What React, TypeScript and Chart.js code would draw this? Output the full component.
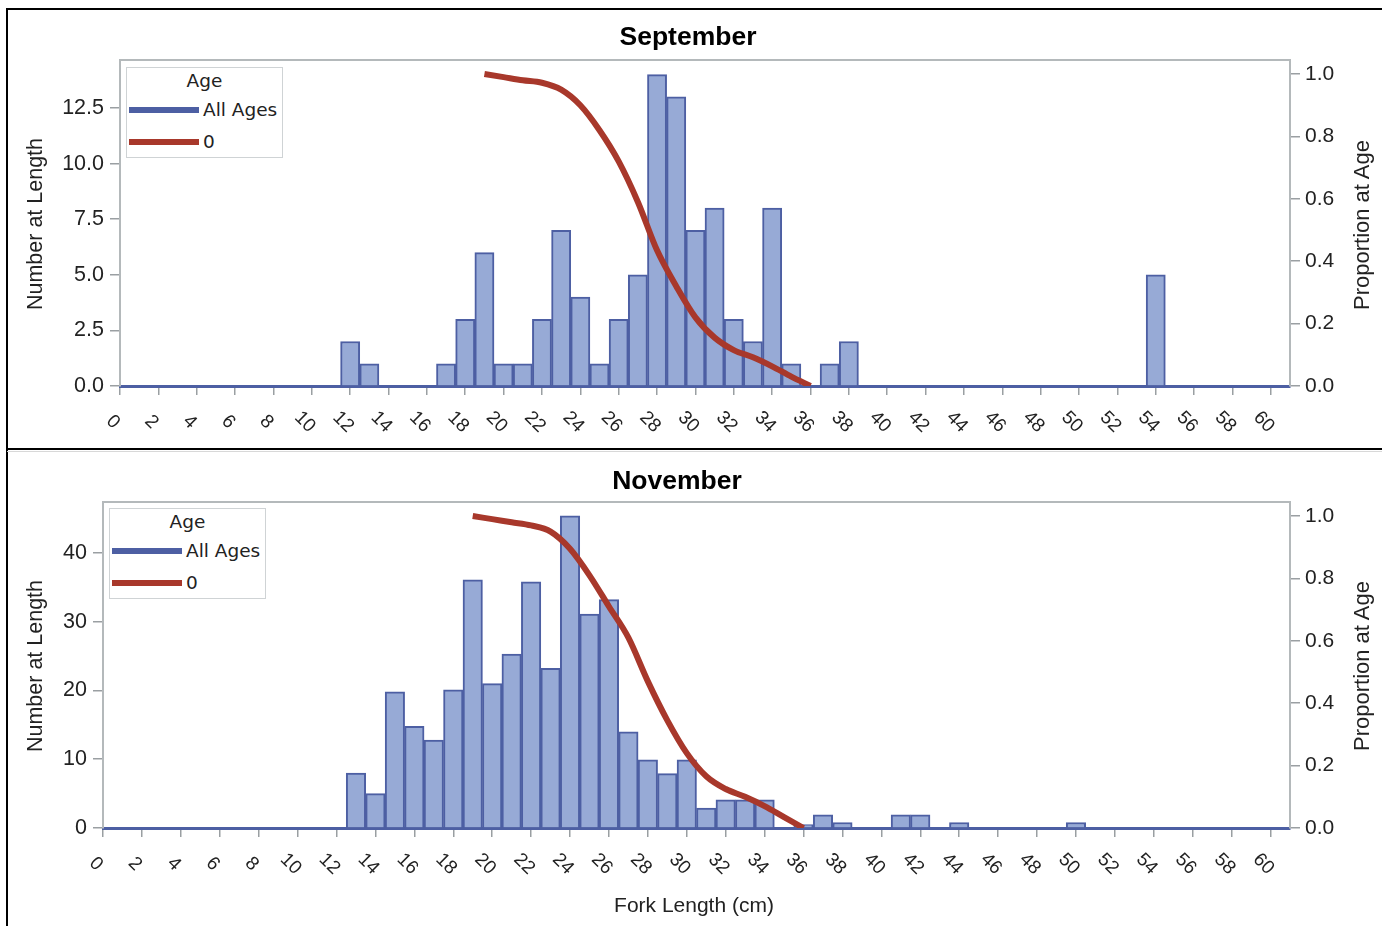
import React, { useEffect, useRef } from "react";
import { Chart, registerables } from "chart.js";

Chart.register(...registerables);

// ---------- data ----------
const X_TICKS = [0, 2, 4, 6, 8, 10, 12, 14, 16, 18, 20, 22, 24, 26, 28, 30, 32, 34, 36, 38, 40, 42, 44, 46, 48, 50, 52, 54, 56, 58, 60];

const SEP_LENGTHS = [12, 13, 17, 18, 19, 20, 21, 22, 23, 24, 25, 26, 27, 28, 29, 30, 31, 32, 33, 34, 35, 37, 38, 54];
const SEP_COUNTS = [2, 1, 1, 3, 6, 1, 1, 3, 7, 4, 1, 3, 5, 14, 13, 7, 8, 3, 2, 8, 1, 1, 2, 5];
const SEP_Y_TICKS = [0, 2.5, 5, 7.5, 10, 12.5];

const NOV_LENGTHS = [13, 14, 15, 16, 17, 18, 19, 20, 21, 22, 23, 24, 25, 26, 27, 28, 29, 30, 31, 32, 33, 34, 36, 37, 38, 41, 42, 44, 50];
const NOV_COUNTS = [8.0, 5.0, 19.8, 14.8, 12.8, 20.1, 36.1, 21.0, 25.3, 35.8, 23.2, 45.4, 31.1, 33.2, 14.0, 9.9, 7.9, 9.9, 2.9, 4.1, 4.1, 4.1, 0.5, 1.9, 0.8, 1.9, 1.9, 0.8, 0.8];
const NOV_Y_TICKS = [0, 10, 20, 30, 40];

const PROP_LENGTHS = [19, 20, 21, 22, 23, 24, 25, 26, 27, 28, 29, 30, 31, 32, 33, 34, 35, 36];
const SEP_PROP = [1.0, 0.99, 0.98, 0.972, 0.95, 0.9, 0.82, 0.72, 0.59, 0.435, 0.32, 0.22, 0.155, 0.115, 0.092, 0.063, 0.03, 0.0];
const NOV_PROP = [1.0, 0.99, 0.98, 0.97, 0.95, 0.895, 0.81, 0.71, 0.61, 0.47, 0.345, 0.24, 0.166, 0.125, 0.1, 0.07, 0.035, 0.0];
const PROP_TICKS = [0, 0.2, 0.4, 0.6, 0.8, 1.0];

// ---------- styles ----------
const FONT = "'Liberation Sans', Arial, sans-serif";
const LEGEND_FONT = "'DejaVu Sans', Verdana, sans-serif";
const BAR_FILL = "#97aad6";
const BAR_BORDER = "#4d5fa3";
const RED = "#a8382b";
const FRAME = "#b4b9bb";
const TICK = "#9a9fa2";
const TEXT = "#222";
const PAGE_W = 1382;

type PanelProps = {
  top: number;
  height: number;
  plotLeft: number;
  plotRight: number;
  plotTop: number;
  plotBottom: number;
  lengths: number[];
  counts: number[];
  yMax: number;
  yTicks: number[];
  yDecimals: number;
  prop: number[];
  propMax: number;
};

const xLabelPlugin = {
  id: "xLabels",
  beforeDatasetsDraw(chart: any) {
    const { ctx, chartArea: a } = chart;
    ctx.save();
    ctx.strokeStyle = FRAME;
    ctx.lineWidth = 2;
    ctx.beginPath();
    ctx.moveTo(a.left, a.top);
    ctx.lineTo(a.right, a.top);
    ctx.stroke();
    ctx.restore();
  },
  afterDraw(chart: any) {
    const { ctx, chartArea: a } = chart;
    const xs = chart.scales.x;
    ctx.save();
    ctx.fillStyle = TEXT;
    ctx.font = `19px ${FONT}`;
    ctx.textAlign = "center";
    ctx.textBaseline = "middle";
    for (const v of X_TICKS) {
      const px = xs.getPixelForValue(v);
      ctx.save();
      ctx.translate(px - 7, a.bottom + 36);
      ctx.rotate(Math.PI / 4);
      ctx.fillText(String(v), 0, 0);
      ctx.restore();
    }
    ctx.restore();
  },
};

function ChartPanel(p: PanelProps) {
  const ref = useRef<HTMLCanvasElement | null>(null);
  useEffect(() => {
    if (!ref.current) return;
    const leftW = p.plotLeft;
    const rightW = PAGE_W - p.plotRight;
    const xH = p.top + p.height - p.plotBottom;
    const padTop = p.plotTop - p.top;
    const chart = new Chart(ref.current, {
      type: "bar",
      data: {
        datasets: [
          {
            type: "line",
            label: "0",
            data: PROP_LENGTHS.map((x, i) => ({ x, y: p.prop[i] })),
            yAxisID: "y1",
            xAxisID: "x",
            borderColor: RED,
            borderWidth: 6,
            pointRadius: 0,
            cubicInterpolationMode: "monotone",
            fill: false,
            order: 0,
          } as any,
          {
            type: "bar",
            label: "All Ages",
            data: p.lengths.map((x, i) => ({ x, y: p.counts[i] })),
            yAxisID: "y",
            xAxisID: "x",
            backgroundColor: BAR_FILL,
            borderColor: BAR_BORDER,
            borderWidth: 2,
            barPercentage: 1,
            categoryPercentage: 1,
            order: 1,
          } as any,
        ],
      },
      options: {
        responsive: false,
        animation: false,
        events: [],
        layout: { padding: { top: padTop, left: 0, right: 0, bottom: 0 } },
        plugins: { legend: { display: false }, title: { display: false }, tooltip: { enabled: false } },
        scales: {
          x: {
            type: "linear",
            min: 0,
            max: 61,
            offset: false,
            afterBuildTicks: (s: any) => {
              s.ticks = X_TICKS.map((v) => ({ value: v }));
            },
            afterFit: (s: any) => {
              s.height = xH;
            },
            ticks: { display: false },
            grid: { offset: false, drawOnChartArea: false, tickLength: 9, color: TICK, lineWidth: 1.5 },
            border: { color: BAR_BORDER, width: 3 },
          },
          y: {
            type: "linear",
            position: "left",
            min: 0,
            max: p.yMax,
            afterBuildTicks: (s: any) => {
              s.ticks = p.yTicks.map((v) => ({ value: v }));
            },
            afterFit: (s: any) => {
              s.width = leftW;
            },
            ticks: {
              font: { family: FONT, size: 21.5 },
              color: TEXT,
              padding: 6,
              callback: (v: any) => Number(v).toFixed(p.yDecimals),
            },
            grid: { drawOnChartArea: false, tickLength: 10, color: TICK, lineWidth: 1.5 },
            border: { color: FRAME, width: 2 },
          },
          y1: {
            type: "linear",
            position: "right",
            min: 0,
            max: p.propMax,
            afterBuildTicks: (s: any) => {
              s.ticks = PROP_TICKS.map((v) => ({ value: v }));
            },
            afterFit: (s: any) => {
              s.width = rightW;
            },
            ticks: {
              font: { family: FONT, size: 21 },
              color: TEXT,
              padding: 5,
              callback: (v: any) => Number(v).toFixed(1),
            },
            grid: { drawOnChartArea: false, tickLength: 10, color: TICK, lineWidth: 1.5 },
            border: { color: FRAME, width: 2 },
          },
        },
      } as any,
      plugins: [xLabelPlugin],
    });
    return () => chart.destroy();
  }, []);
  return (
    <canvas
      ref={ref}
      width={PAGE_W}
      height={p.height}
      style={{ position: "absolute", left: 0, top: p.top, width: PAGE_W, height: p.height, display: "block" }}
    />
  );
}

function Legend({ left, top }: { left: number; top: number }) {
  const row = (color: string, label: string, center: number) => (
    <>
      <div style={{ position: "absolute", left: 2, top: center - 3, width: 70, height: 6, background: color }} />
      <div style={{ position: "absolute", left: 76, top: center - 11, lineHeight: "22px", whiteSpace: "nowrap" }}>{label}</div>
    </>
  );
  return (
    <div
      style={{
        position: "absolute",
        left,
        top,
        width: 155,
        height: 89,
        border: "1.5px solid #cfd3d5",
        background: "#fff",
        fontFamily: LEGEND_FONT,
        fontSize: 18.5,
        color: TEXT,
      }}
    >
      <div style={{ position: "absolute", left: 0, width: "100%", top: 2, textAlign: "center", lineHeight: "22px" }}>Age</div>
      {row(BAR_BORDER, "All Ages", 42)}
      {row(RED, "0", 74)}
    </div>
  );
}

function Txt({ x, y, text, size, bold, rotate }: { x: number; y: number; text: string; size: number; bold?: boolean; rotate?: boolean }) {
  return (
    <div
      style={{
        position: "absolute",
        left: x,
        top: y,
        transform: `translate(-50%, -50%)${rotate ? " rotate(-90deg)" : ""}`,
        whiteSpace: "nowrap",
        fontFamily: FONT,
        fontSize: size,
        fontWeight: bold ? "bold" : "normal",
        color: bold ? "#000" : TEXT,
        lineHeight: 1,
      }}
    >
      {text}
    </div>
  );
}

export default function App() {
  return (
    <div style={{ position: "absolute", left: 0, top: 0, width: PAGE_W, height: 926, background: "#fff", overflow: "hidden" }}>
      <ChartPanel
        top={0}
        height={446}
        plotLeft={120}
        plotRight={1290}
        plotTop={60}
        plotBottom={386}
        lengths={SEP_LENGTHS}
        counts={SEP_COUNTS}
        yMax={14.66}
        yTicks={SEP_Y_TICKS}
        yDecimals={1}
        prop={SEP_PROP}
        propMax={1.045}
      />
      <ChartPanel
        top={453}
        height={473}
        plotLeft={103}
        plotRight={1290}
        plotTop={502}
        plotBottom={828}
        lengths={NOV_LENGTHS}
        counts={NOV_COUNTS}
        yMax={47.4}
        yTicks={NOV_Y_TICKS}
        yDecimals={0}
        prop={NOV_PROP}
        propMax={1.045}
      />
      {/* titles */}
      <Txt x={688} y={36} text="September" size={26.5} bold />
      <Txt x={677} y={480} text="November" size={26.5} bold />
      <Txt x={36} y={224} text="Number at Length" size={21.5} rotate />
      <Txt x={1362} y={225} text="Proportion at Age" size={22} rotate />
      <Txt x={36} y={666} text="Number at Length" size={21.5} rotate />
      <Txt x={1362} y={666} text="Proportion at Age" size={22} rotate />
      <Txt x={694} y={904} text="Fork Length (cm)" size={21} />
      <Legend left={126} top={67} />
      <Legend left={109} top={508} />
      {/* panel borders */}
      <div style={{ position: "absolute", left: 7, top: 8, width: PAGE_W, height: 2, background: "#000" }} />
      <div style={{ position: "absolute", left: 6, top: 8, width: 2, height: 926, background: "#000" }} />
      <div style={{ position: "absolute", left: 7, top: 448, width: PAGE_W, height: 2, background: "#000" }} />
      <div style={{ position: "absolute", left: 7, top: 451, width: PAGE_W, height: 1, background: "#d8d8d8" }} />
    </div>
  );
}
